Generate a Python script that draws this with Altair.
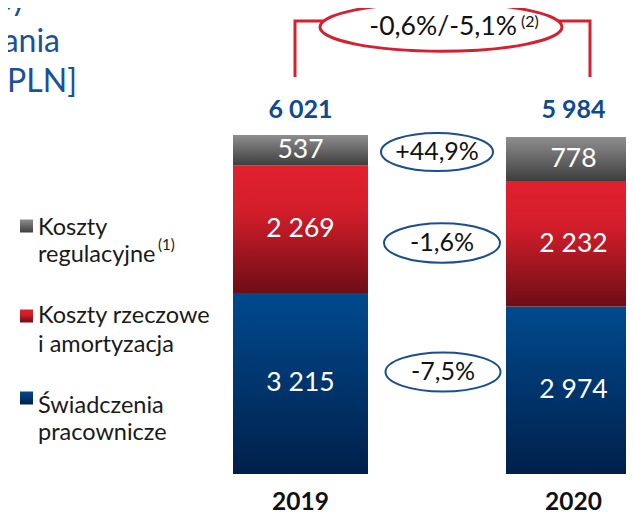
import altair as alt
import pandas as pd

# ---------------- data ----------------
years = [2019, 2020]
categories = ["Świadczenia pracownicze", "Koszty rzeczowe i amortyzacja", "Koszty regulacyjne"]
values_2019 = [3215, 2269, 537]
values_2020 = [2974, 2232, 778]
totals = [6021, 5984]
segment_changes = ["-7,5%", "-1,6%", "+44,9%"]
total_change = "-0,6%/-5,1%"
total_change_note = "(2)"
legend_lines = [["Koszty", "regulacyjne"], ["Koszty rzeczowe", "i amortyzacja"], ["Świadczenia", "pracownicze"]]
legend_note = "(1)"
title_lines = ["Koszty", "działania", "[mln PLN]"]

# ---------------- style / layout ----------------
FONT = "Lato"
BLUE_TXT = "#0d4a8e"
RED_LINE = "#d4202f"
W, H = 618, 507


def fmt(v):
    return f"{v:,}".replace(",", " ")


def grad(stops):
    return alt.LinearGradient(
        gradient="linear",
        stops=[alt.GradientStop(offset=o, color=c) for o, c in stops],
        x1=0, y1=0, x2=0, y2=1,
    )


grads = [
    grad([(0, "#004a8f"), (1, "#00204a")]),
    grad([(0, "#e2202e"), (0.35, "#d41e2b"), (1, "#6d0d15")]),
    grad([(0, "#8e8e8e"), (1, "#3e3e3e")]),
]


def ellipse_path(k):
    c = 0.5523
    return (f"M -1 0 C -1 {-k*c:.4f} {-c} {-k} 0 {-k} C {c} {-k} 1 {-k*c:.4f} 1 0 "
            f"C 1 {k*c:.4f} {c} {k} 0 {k} C {-c} {k} -1 {k*c:.4f} -1 0 Z")


rows = []
for yr, vals in zip(years, [values_2019, values_2020]):
    for i, (cat, v) in enumerate(zip(categories, vals)):
        rows.append({"year": yr, "category": cat, "value": v, "order": i, "label": fmt(v)})
bars_df = pd.DataFrame(rows)

tot_df = pd.DataFrame({"year": years, "label": [fmt(t) for t in totals]})
yr_df = pd.DataFrame({"year": years, "label": [str(y) for y in years]})

xs = alt.Scale(domain=[2017.92857, 2020.19231], nice=False, zero=False, padding=0)
ys = alt.Scale(domain=[-728.2, 8276.6], nice=False, zero=False, padding=0)

base = alt.Chart(bars_df).transform_stack(
    stack="value", groupby=["year"], as_=["y0", "y1"],
    sort=[alt.SortField("order", order="ascending")],
)

layers = []
for i, cat in enumerate(categories):
    layers.append(
        base.transform_filter(alt.datum.category == cat)
        .mark_bar(size=135, color=grads[i], strokeWidth=0)
        .encode(
            x=alt.X("year:Q", scale=xs, axis=None),
            y=alt.Y("y0:Q", scale=ys, axis=None),
            y2="y1:Q",
        )
    )

layers.append(
    base.transform_calculate(mid="(datum.y0 + datum.y1) / 2")
    .mark_text(color="white", fontSize=26.5, font=FONT)
    .encode(
        x=alt.X("year:Q", scale=xs, axis=None),
        y=alt.Y("mid:Q", scale=ys, axis=None),
        text="label:N",
    )
)

layers.append(
    alt.Chart(tot_df).mark_text(color=BLUE_TXT, fontSize=25, fontWeight="bold", font=FONT)
    .encode(x=alt.X("year:Q", scale=xs, axis=None), y=alt.value(102), text="label:N")
)
layers.append(
    alt.Chart(yr_df).mark_text(color="#111111", fontSize=24.5, fontWeight="bold", font=FONT)
    .encode(x=alt.X("year:Q", scale=xs, axis=None), y=alt.value(495), text="label:N")
)

# bracket with total change
br_df = pd.DataFrame({"px": [287, 287, 582, 582], "py": [69, 13, 13, 69], "ord": [0, 1, 2, 3]})
layers.append(
    alt.Chart(br_df).mark_line(color=RED_LINE, strokeWidth=3)
    .encode(x=alt.X("px:Q", scale=None), y=alt.Y("py:Q", scale=None), order="ord:O")
)
one = pd.DataFrame({"a": [0]})
layers.append(
    alt.Chart(one).mark_point(shape=ellipse_path(0.2), size=242 ** 2, fill="white", stroke=RED_LINE,
                              strokeWidth=3, opacity=1, fillOpacity=1, strokeOpacity=1)
    .encode(x=alt.value(433), y=alt.value(19))
)
layers.append(
    alt.Chart(one).mark_text(text=total_change, align="right", fontSize=26.5, font=FONT, color="#111111")
    .encode(x=alt.value(509), y=alt.value(19))
)
layers.append(
    alt.Chart(one).mark_text(text=total_change_note, align="left", fontSize=16, font=FONT, color="#111111")
    .encode(x=alt.value(513), y=alt.value(14))
)

# segment change ellipses
ell_df = pd.DataFrame({
    "label": segment_changes,
    "px": [435, 434, 429],
    "py": [364, 235, 144],
    "sz": [115 ** 2, 116 ** 2, 112 ** 2],
})
layers.append(
    alt.Chart(ell_df).mark_point(shape=ellipse_path(0.34), fill="white", stroke="#1a4f8f",
                                 strokeWidth=2, opacity=1, fillOpacity=1, strokeOpacity=1)
    .encode(x=alt.X("px:Q", scale=None), y=alt.Y("py:Q", scale=None),
            size=alt.Size("sz:Q", scale=None, legend=None))
)
layers.append(
    alt.Chart(ell_df).mark_text(fontSize=25, font=FONT, color="#111111")
    .encode(x=alt.X("px:Q", scale=None), y=alt.Y("py:Q", scale=None), text="label:N")
)

# title (cut at the left edge, as in the original)
title_df = pd.DataFrame({"t": title_lines, "px": [19, 52, 69], "py": [2, 44, 84]})
layers.append(
    alt.Chart(title_df).mark_text(align="right", baseline="alphabetic", fontSize=32, font=FONT,
                                  color="#1a5296")
    .encode(x=alt.X("px:Q", scale=None), y=alt.Y("py:Q", scale=None), text="t:N")
)

# legend (custom, top to bottom: regulacyjne, rzeczowe, świadczenia)
sq_y = [390, 308, 218]
for i in range(3):
    layers.append(
        alt.Chart(one).mark_point(shape="square", size=169, color=grads[i], filled=True,
                                  opacity=1, strokeWidth=0)
        .encode(x=alt.value(18.5), y=alt.value(sq_y[i]))
    )
leg_base = [[227, 254], [315, 344], [405, 432]]
leg_rows = []
for k, lines in enumerate(legend_lines):
    for j, ln in enumerate(lines):
        leg_rows.append({"t": ln, "px": 30, "py": leg_base[k][j]})
leg_df = pd.DataFrame(leg_rows)
layers.append(
    alt.Chart(leg_df).mark_text(align="left", baseline="alphabetic", fontSize=23.5, font=FONT,
                                color="#1a1a1a")
    .encode(x=alt.X("px:Q", scale=None), y=alt.Y("py:Q", scale=None), text="t:N")
)
layers.append(
    alt.Chart(one).mark_text(text=legend_note, align="left", baseline="alphabetic", fontSize=15,
                             font=FONT, color="#1a1a1a")
    .encode(x=alt.value(150), y=alt.value(242))
)

chart = (
    alt.layer(*layers)
    .properties(width=W, height=H, autosize=alt.AutoSizeParams(type="none"), padding=0)
    .configure_view(stroke=None)
)

chart.save("out.html", embed_options={"renderer": "svg", "actions": False})
